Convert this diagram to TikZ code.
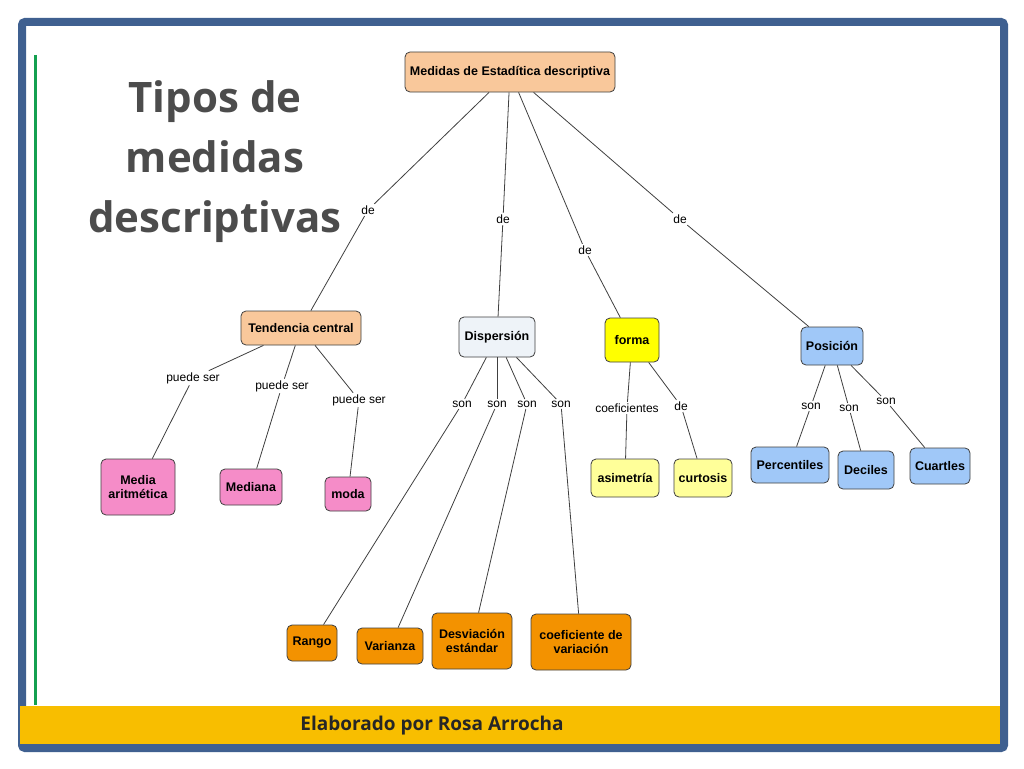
\documentclass[tikz,border=0pt]{standalone}
\usepackage{fontspec}
\setmainfont{Liberation Sans}
\newfontfamily\titlefont{Open Sans}
\begin{document}
\begin{tikzpicture}[x=1pt,y=-1pt,
 box/.style={draw=black!75,rounded corners=5pt,line width=0.8pt,font=\bfseries\fontsize{12.5}{14.5}\selectfont,align=center,inner sep=2pt},
 lab/.style={font=\fontsize{12}{14}\selectfont,inner sep=1.5pt,fill=white},
 ln/.style={draw=black!75,line width=0.8pt}]
\definecolor{peach}{HTML}{F9C89B}\definecolor{pinkc}{HTML}{F58CC8}
\definecolor{orng}{HTML}{F39200}\definecolor{yel}{HTML}{FFFF00}
\definecolor{lyel}{HTML}{FFFF99}\definecolor{blu}{HTML}{A0C8F8}
\definecolor{disp}{HTML}{EEF3F8}
\useasboundingbox (0,0) rectangle (1024,768);
\fill[white] (0,0) rectangle (1024,768);
\draw[line width=8pt,color={rgb,255:red,63;green,96;blue,144},rounded corners=3pt] (22,22) rectangle (1004,748);
\draw[line width=3pt,color={rgb,255:red,20;green,160;blue,80}] (35,55) -- (35,705);
\fill[color={rgb,255:red,248;green,190;blue,0}] (20,706) rectangle (1000,744);
\node[font=\titlefont\bfseries\fontsize{19}{22}\selectfont,text=black!85] (foot) at (432,726) {Elaborado por Rosa Arrocha};
\node[align=center,font=\titlefont\bfseries\fontsize{42}{60}\selectfont,text=black!70] (title) at (215,162) {Tipos de\\medidas\\descriptivas};
% nodes
\node[box,fill=peach,minimum width=210,minimum height=40] (top) at (510,72) {Medidas de Estadítica descriptiva};
\node[box,fill=peach,minimum width=120,minimum height=34] (tc) at (301,328) {Tendencia central};
\node[box,fill=disp,minimum width=76,minimum height=40] (di) at (497,337) {Dispersión};
\node[box,fill=yel,minimum width=54,minimum height=44] (fo) at (632,340) {forma};
\node[box,fill=blu,minimum width=62,minimum height=38] (po) at (832,346) {Posición};
\node[box,fill=pinkc,minimum width=74,minimum height=56] (ma) at (138,487) {Media\\aritmética};
\node[box,fill=pinkc,minimum width=62,minimum height=36] (me) at (251,487) {Mediana};
\node[box,fill=pinkc,minimum width=46,minimum height=34] (mo) at (348,494) {moda};
\node[box,fill=orng,minimum width=50,minimum height=36] (ra) at (312,643) {Rango};
\node[box,fill=orng,minimum width=66,minimum height=36] (va) at (390,646) {Varianza};
\node[box,fill=orng,minimum width=80,minimum height=56] (de) at (472,641) {Desviación\\estándar};
\node[box,fill=orng,minimum width=100,minimum height=56] (cv) at (581,642) {coeficiente de\\variación};
\node[box,fill=lyel,minimum width=68,minimum height=38] (as) at (625,478) {asimetría};
\node[box,fill=lyel,minimum width=58,minimum height=38] (cu) at (703,478) {curtosis};
\node[box,fill=blu,minimum width=78,minimum height=36] (pe) at (790,465) {Percentiles};
\node[box,fill=blu,minimum width=56,minimum height=38] (dc) at (866,470) {Deciles};
\node[box,fill=blu,minimum width=60,minimum height=36] (ca) at (940,466) {Cuartles};
% labels
\node[lab] (l1) at (368,210) {de};
\node[lab] (l2) at (503,219) {de};
\node[lab] (l3) at (585,250) {de};
\node[lab] (l4) at (680,219) {de};
\node[lab] (p1) at (193,378) {puede ser};
\node[lab] (p2) at (282,386) {puede ser};
\node[lab] (p3) at (359,400) {puede ser};
\node[lab] (s1) at (462,404) {son};
\node[lab] (s2) at (497,404) {son};
\node[lab] (s3) at (527,404) {son};
\node[lab] (s4) at (561,404) {son};
\node[lab] (c1) at (627,408) {coeficientes};
\node[lab] (c2) at (681,406) {de};
\node[lab] (q1) at (811,406) {son};
\node[lab] (q2) at (849,408) {son};
\node[lab] (q3) at (886,401) {son};
% connectors
\foreach \a/\l/\b in {top/l1/tc,top/l2/di,top/l3/fo,top/l4/po,tc/p1/ma,tc/p2/me,tc/p3/mo,di/s1/ra,di/s2/va,di/s3/de,di/s4/cv,fo/c1/as,fo/c2/cu,po/q1/pe,po/q2/dc,po/q3/ca}{
 \draw[ln] (\a) -- (\l); \draw[ln] (\l) -- (\b);}
\end{tikzpicture}
\end{document}
